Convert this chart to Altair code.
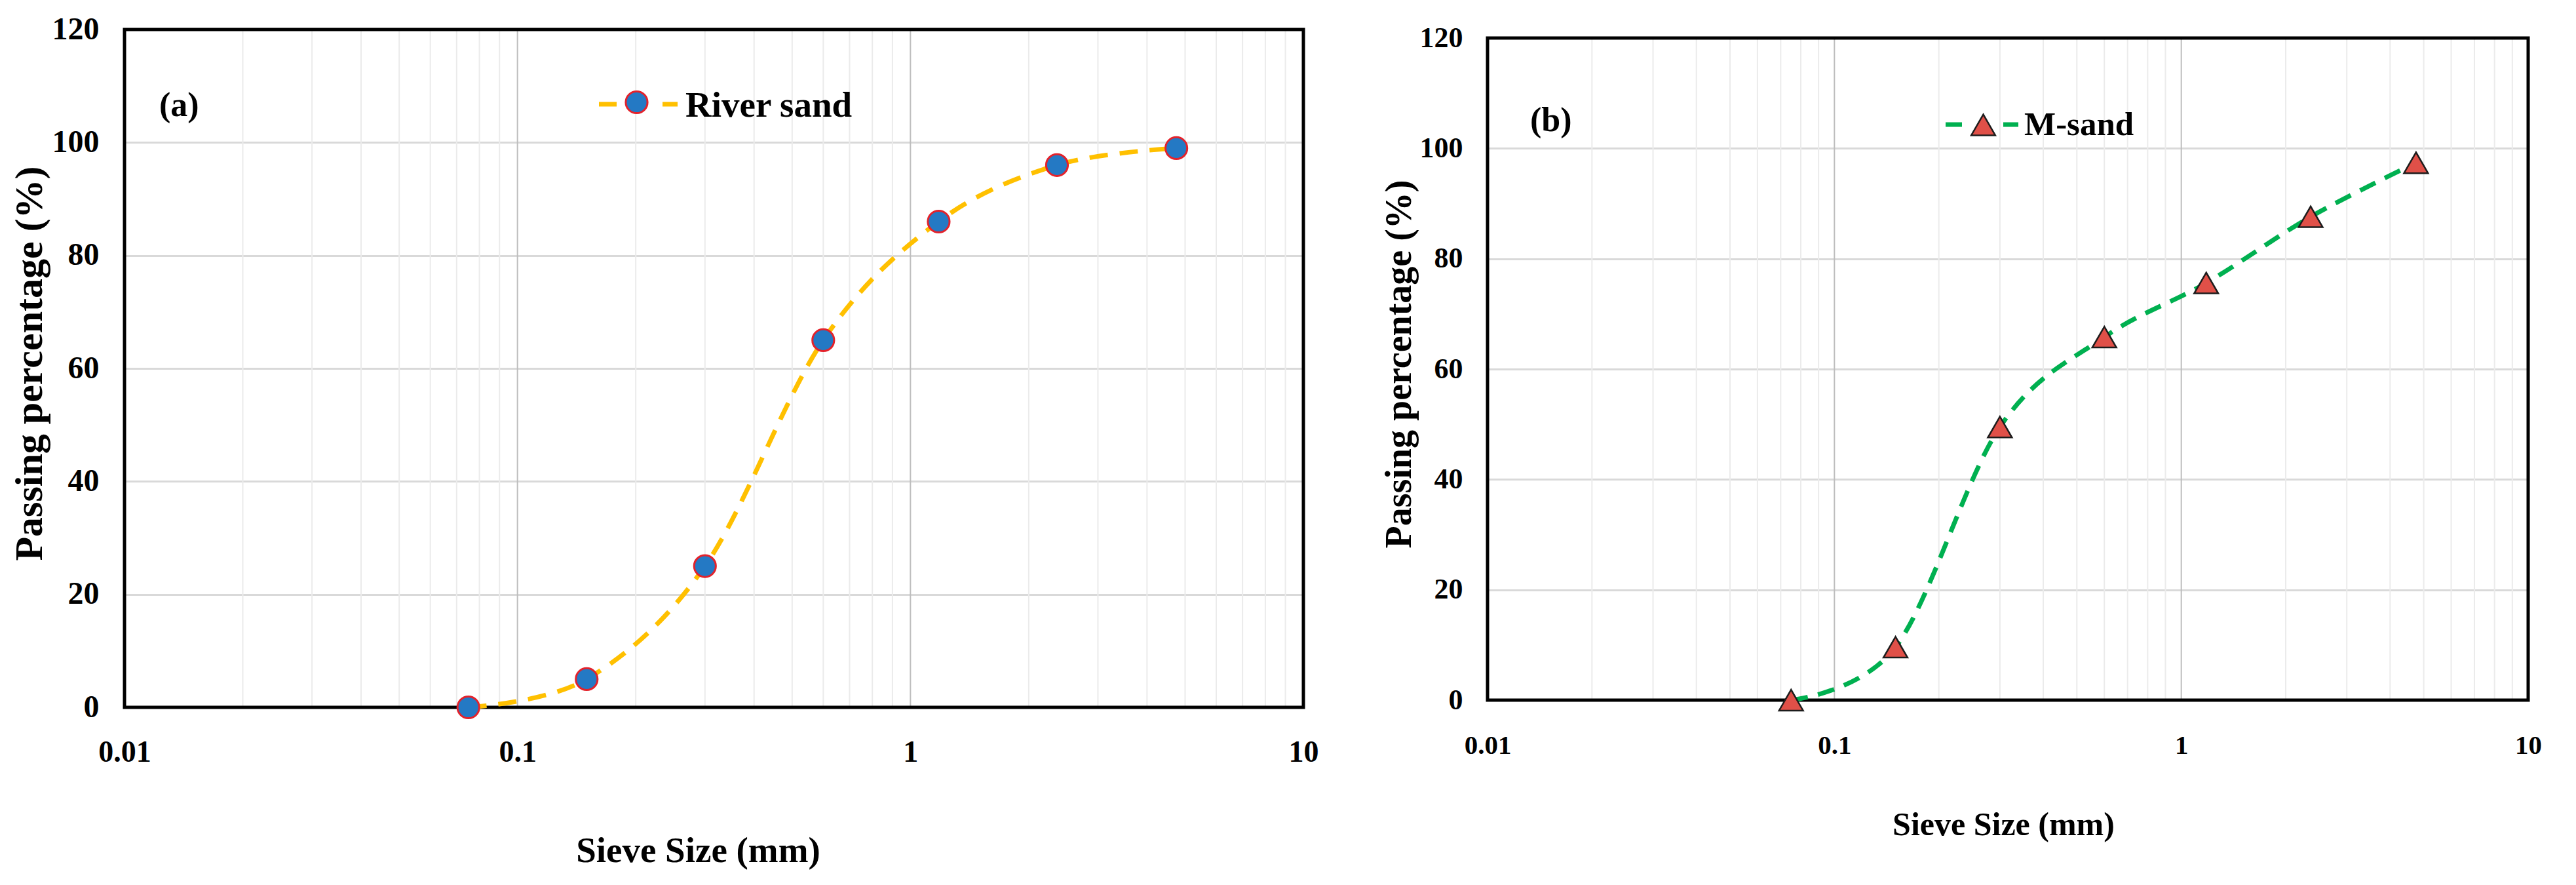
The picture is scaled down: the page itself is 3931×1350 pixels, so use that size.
import altair as alt
import pandas as pd

# ---------------- data ----------------
sieve_mm = [0.075, 0.15, 0.3, 0.6, 1.18, 2.36, 4.75]
river_sand = [0, 5, 25, 65, 86, 96, 99]
m_sand = [0, 9.6, 49.5, 65.8, 75.6, 87.6, 97.4]
x_decades = [0.01, 0.1, 1, 10]
x_grid = [m * d for d in [0.01, 0.1, 1] for m in range(1, 10)] + [10]
y_ticks = [0, 20, 40, 60, 80, 100, 120]
x_title = "Sieve Size (mm)"
y_title = "Passing percentage (%)"

FONT = "Liberation Serif"
IS_DECADE = "abs(log(datum.sieve)/LN10 - round(log(datum.sieve)/LN10)) < 1e-6"
IS_EDGE = "datum.sieve < 0.0100001 || datum.sieve > 9.9999"


def make_panel(series, name, tag, s):
    top, h, w = s["top"], s["h"], s["w"]
    df = pd.DataFrame({"sieve": sieve_mm, "passing": series})
    grid_df = pd.DataFrame({"sieve": x_grid})
    one = pd.DataFrame({"name": [name], "tag": [tag]})

    xscale = alt.Scale(type="log", domain=[0.01, 10])
    yscale = alt.Scale(domain=[0, 120], nice=False, range=[top + h, top])

    x_main = alt.X("sieve:Q", scale=xscale, axis=alt.Axis(
        values=x_decades, format="~g",
        ticks=False, labelOverlap=False, labelFlush=False,
        labelFont=FONT, labelFontSize=s["xlab_fs"], labelFontWeight="bold",
        labelColor="black", labelBaseline="alphabetic", labelPadding=s["xlab_pad"],
        grid=False, domain=False,
        title=x_title, titleFont=FONT, titleFontSize=s["xt_fs"], titleFontWeight="bold",
        titleColor="black", titleX=s["xt_x"], titleY=s["xt_y"],
        titleBaseline="alphabetic", titleAlign="center"))

    y_main = alt.Y("passing:Q", scale=yscale, axis=alt.Axis(
        values=y_ticks, ticks=False, labelOverlap=False, labelFlush=False,
        labelFont=FONT, labelFontSize=s["ylab_fs"], labelFontWeight="bold",
        labelColor="black", labelPadding=s["ylab_pad"],
        grid=True, gridWidth=3, gridColor="#d9d9d9",
        gridOpacity={"condition": {"test": "datum.value <= 0 || datum.value >= 120",
                                   "value": 0}, "value": 1},
        domain=False,
        title=y_title, titleFont=FONT, titleFontSize=s["yt_fs"], titleFontWeight="bold",
        titleColor="black", titleX=s["yt_x"], titleY=s["yt_y"] + top,
        titleBaseline="alphabetic", titleAlign="center"))

    minor = alt.Chart(grid_df).transform_filter(
        f"!({IS_DECADE}) && !({IS_EDGE})"
    ).mark_rule(color="#ebebeb", strokeWidth=2).encode(
        x=x_main, y=alt.value(top), y2=alt.value(top + h))
    major = alt.Chart(grid_df).transform_filter(
        f"({IS_DECADE}) && !({IS_EDGE})"
    ).mark_rule(color="#bdbdbd", strokeWidth=2).encode(
        x=x_main, y=alt.value(top), y2=alt.value(top + h))

    frame = alt.Chart(one).mark_rect(
        filled=False, stroke="black", strokeWidth=5
    ).encode(x=alt.value(0), x2=alt.value(w), y=alt.value(top), y2=alt.value(top + h))

    line = alt.Chart(df).mark_line(
        interpolate="cardinal", color=s["line_color"], strokeWidth=s["line_w"],
        strokeDash=s["dash"]).encode(x=x_main, y=y_main)

    pts = alt.Chart(df).mark_point(
        shape=s["shape"], filled=True, fill=s["fill"], stroke=s["stroke"],
        strokeWidth=s["mstroke"], size=s["msize"], opacity=1
    ).encode(x=x_main, y=y_main)

    leg_rule = alt.Chart(one).mark_rule(
        color=s["line_color"], strokeWidth=s["line_w"], strokeDash=s["leg_dash"]
    ).encode(x=alt.value(s["leg_x0"]), x2=alt.value(s["leg_x1"]),
             y=alt.value(s["leg_ry"] + top))
    leg_pt = alt.Chart(one).mark_point(
        shape=s["shape"], filled=True, fill=s["fill"], stroke=s["stroke"],
        strokeWidth=s["mstroke"], size=s["msize"], opacity=1
    ).encode(x=alt.value(s["leg_mx"]), y=alt.value(s["leg_my"] + top))
    leg_txt = alt.Chart(one).mark_text(
        align="left", baseline="alphabetic", font=FONT, fontSize=s["leg_fs"],
        fontWeight="bold", color="black"
    ).encode(x=alt.value(s["leg_tx"]), y=alt.value(s["leg_ty"] + top), text="name:N")
    tag_txt = alt.Chart(one).mark_text(
        align="left", baseline="alphabetic", font=FONT, fontSize=s["tag_fs"],
        fontWeight="bold", color="black"
    ).encode(x=alt.value(s["tag_x"]), y=alt.value(s["tag_y"] + top), text="tag:N")

    return alt.layer(minor, major, frame, line, pts, leg_rule, leg_pt, leg_txt,
                     tag_txt).properties(width=w, height=top + h)


sa = dict(top=0, w=1799, h=1034, xlab_fs=46, xlab_pad=82, xt_fs=55, xt_x=875, xt_y=235,
          ylab_fs=48, ylab_pad=39, yt_fs=60, yt_x=-127, yt_y=509,
          line_color="#FFC000", line_w=7, dash=[28, 18],
          shape="circle", fill="#2479c4", stroke="#e3222b", mstroke=3, msize=1100,
          leg_x0=724, leg_x1=844, leg_ry=114, leg_dash=[27, 70, 23, 200],
          leg_mx=781.5, leg_my=111, leg_tx=856, leg_ty=133, leg_fs=55,
          tag_x=53, tag_y=132, tag_fs=52)

sb = dict(top=13, w=1588, h=1010, xlab_fs=41, xlab_pad=81, xt_fs=50, xt_x=787, xt_y=205,
          ylab_fs=44, ylab_pad=38, yt_fs=56, yt_x=-118, yt_y=497,
          line_color="#00B050", line_w=7, dash=[26, 16],
          shape="triangle-up", fill="#e05048", stroke="#1c1c1c", mstroke=2.5, msize=1350,
          leg_x0=699, leg_x1=810, leg_ry=132, leg_dash=[25, 63, 23, 200],
          leg_mx=756.5, leg_my=132.5, leg_tx=819, leg_ty=148, leg_fs=51,
          tag_x=65, tag_y=142, tag_fs=52)

pa = make_panel(river_sand, "River sand", "(a)", sa)
pb = make_panel(m_sand, "M-sand", "(b)", sb)

chart = alt.hconcat(pa, pb, spacing=93).properties(
    padding={"left": 6, "top": 12, "right": 5, "bottom": 5},
    background="white",
).configure_view(stroke="transparent")

chart.save("out.html", embed_options={"renderer": "svg", "actions": False})
